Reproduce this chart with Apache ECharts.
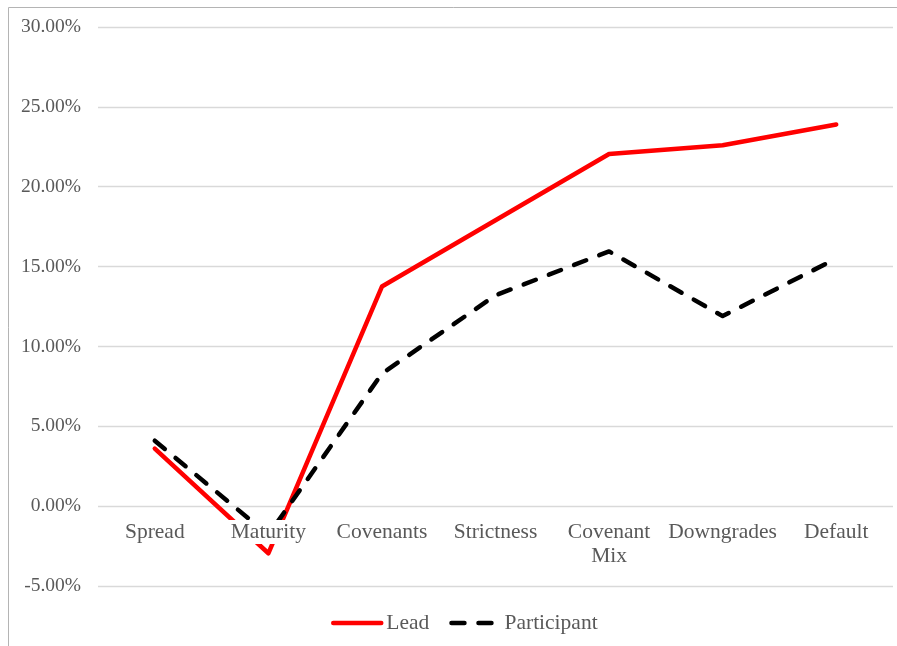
<!DOCTYPE html>
<html>
<head>
    <meta charset="utf-8" />
    <title>Lead vs Participant</title>
    <script src="https://cdn.jsdelivr.net/npm/echarts@6/dist/echarts.min.js"></script>
    <style>
        html, body { margin: 0; padding: 0; background: #fff; }
    </style>
</head>
<body>
<div id="main" style="width: 897px;height:646px;"></div>
<script type="text/javascript">
    // categories and values (percent)
    var categories = ['Spread', 'Maturity', 'Covenants', 'Strictness', 'Covenant\nMix', 'Downgrades', 'Default'];
    var leadValues = [3.6, -2.95, 13.75, 17.9, 22.05, 22.6, 23.9];
    var participantValues = [4.1, -1.8, 8.3, 13.2, 15.95, 11.9, 15.5];
    var yTicks = { min: -5, max: 30, interval: 5 };

    var font = "'Liberation Serif', 'Times New Roman', serif";
    var myChart = echarts.init(document.getElementById('main'));

    var option = {
        backgroundColor: '#fff',
        animation: false,
        textStyle: { fontFamily: font },
        graphic: [{
            type: 'rect',
            shape: { x: 8.5, y: 7.5, width: 1000, height: 1000 },
            style: { fill: 'none', stroke: '#b4b4b4', lineWidth: 1 },
            z: -1
        }],
        grid: { left: 98, right: 4, top: 27, bottom: 60, containLabel: false },
        legend: {
            top: 607,
            left: 326,
            itemWidth: 48,
            itemHeight: 10,
            itemGap: 20,
            // hide the symbol dot, keep just the thick line
            itemStyle: { color: 'rgba(0,0,0,0)', borderWidth: 0 },
            lineStyle: { width: 4.5, cap: 'round' },
            textStyle: { fontFamily: font, fontSize: 21.5, color: '#595959' },
            data: ['Lead', 'Participant']
        },
        xAxis: {
            type: 'category',
            data: categories,
            boundaryGap: true,
            z: 5,
            // labels sit next to the 0% line (one tick step above the bottom)
            offset: -80,
            axisLine: { show: false, onZero: false },
            axisTick: { show: false },
            splitLine: { show: false },
            axisLabel: {
                interval: 0,
                margin: 14,
                fontFamily: font,
                fontSize: 21.5,
                lineHeight: 24,
                color: '#595959',
                backgroundColor: '#fff',
                padding: [0, 2, 0, 2]
            }
        },
        yAxis: {
            type: 'value',
            min: yTicks.min,
            max: yTicks.max,
            interval: yTicks.interval,
            axisLine: { show: false },
            axisTick: { show: false },
            splitLine: { lineStyle: { color: '#d9d9d9', width: 1.3 } },
            axisLabel: {
                margin: 17,
                fontFamily: font,
                fontSize: 19.5,
                color: '#595959',
                formatter: function (v) { return v.toFixed(2) + '%'; }
            }
        },
        series: [
            {
                name: 'Lead',
                type: 'line',
                data: leadValues,
                symbol: 'none',
                z: 3,
                lineStyle: { color: '#ff0000', width: 4.5, cap: 'round', join: 'round' },
                itemStyle: { color: '#ff0000' }
            },
            {
                name: 'Participant',
                type: 'line',
                data: participantValues,
                symbol: 'none',
                z: 3,
                lineStyle: { color: '#000000', width: 4.5, type: [13, 14], cap: 'round', join: 'round' },
                itemStyle: { color: '#000000' }
            }
        ]
    };
    myChart.setOption(option);
</script>
</body>
</html>
